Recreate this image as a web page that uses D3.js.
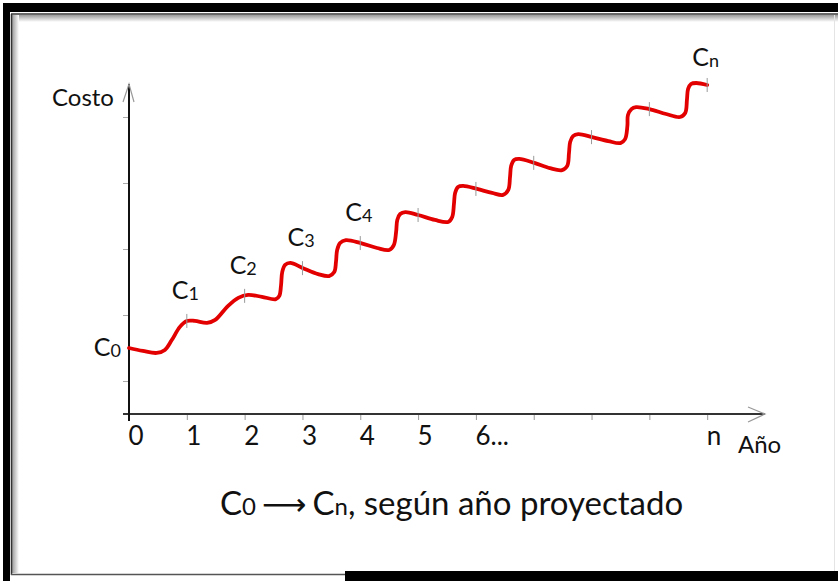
<!DOCTYPE html>
<html>
<head>
<meta charset="utf-8">
<script src="https://cdn.jsdelivr.net/npm/d3@7"></script>
<style>
html,body{margin:0;padding:0;background:#fff;}
svg{display:block;}
text{font-family:Lato,"Open Sans",sans-serif;fill:#111;}
</style>
</head>
<body>
<script>
// ---- data ----
const curveYears = [0,0.24,0.48,0.62,0.74,0.88,1.00,1.14,1.35,1.49,1.71,1.89,2.06,2.30,2.54,
  2.60,2.63,2.65,2.70,2.79,3.01,3.27,3.46,3.55,3.58,3.60,3.65,3.75,4.01,4.29,4.50,
  4.58,4.62,4.64,4.69,4.78,5.00,5.29,5.52,5.59,5.62,5.64,5.69,5.78,6.02,6.28,6.47,
  6.56,6.59,6.61,6.66,6.75,7.01,7.28,7.49,7.58,7.61,7.63,7.68,7.77,8.01,8.29,8.50,
  8.58,8.62,8.63,8.69,8.77,9.00,9.29,9.53,9.62,9.65,9.67,9.72,9.81,10.00];
const curveCosts = [2.00,1.91,1.85,1.94,2.24,2.64,2.82,2.82,2.76,2.85,3.27,3.52,3.61,3.55,3.48,
  3.58,3.91,4.30,4.52,4.58,4.42,4.24,4.18,4.30,4.61,4.97,5.18,5.27,5.18,5.03,4.97,
  5.12,5.52,5.88,6.06,6.12,6.03,5.88,5.82,5.97,6.36,6.70,6.88,6.91,6.82,6.70,6.64,
  6.79,7.18,7.52,7.70,7.73,7.61,7.45,7.39,7.52,7.91,8.24,8.42,8.48,8.39,8.27,8.21,
  8.33,8.73,9.06,9.24,9.30,9.24,9.09,9.00,9.12,9.52,9.85,10.00,10.03,9.97];
const markerYears = [1,2,3,4,5,6,7,8,9,10];
const markerCosts = [2.82,3.58,4.42,5.18,6.03,6.82,7.61,8.39,9.24,9.97];
const xTickValues = [0,1,2,3,4,5,6,7,8,9,10];
const xTickLabels = ["0","1","2","3","4","5","6...","","","","n"];
const yTickValues = [1,3,5,7,9];
const costLabelYears = [0,1,2,3,4,10];
const costLabelCosts = [2.00,2.82,3.58,4.42,5.18,9.97];
const costLabelSubs = ["0","1","2","3","4","n"];

const W = 838, H = 581;
const svg = d3.select("body").append("svg").attr("width", W).attr("height", H);

// ---- frame ----
const defs = svg.append("defs");
const gTop = defs.append("linearGradient").attr("id","shTop").attr("x1",0).attr("y1",0).attr("x2",0).attr("y2",1);
gTop.append("stop").attr("offset","0%").attr("stop-color","#9a9a9a");
gTop.append("stop").attr("offset","100%").attr("stop-color","#fff");
const gLeft = defs.append("linearGradient").attr("id","shLeft").attr("x1",0).attr("y1",0).attr("x2",1).attr("y2",0);
gLeft.append("stop").attr("offset","0%").attr("stop-color","#9a9a9a");
gLeft.append("stop").attr("offset","100%").attr("stop-color","#fff");
svg.append("rect").attr("x",12).attr("y",15).attr("width",W-12).attr("height",7).attr("fill","url(#shTop)");
svg.append("rect").attr("x",12).attr("y",15).attr("width",7).attr("height",558).attr("fill","url(#shLeft)");
svg.append("rect").attr("x",3).attr("y",3).attr("width",W-3).attr("height",9).attr("fill","#000");
svg.append("rect").attr("x",3).attr("y",3).attr("width",7).attr("height",H-3).attr("fill","#000");
svg.append("line").attr("x1",11).attr("x2",W).attr("y1",14).attr("y2",14).attr("stroke","#333").attr("stroke-width",1.5);
svg.append("line").attr("x1",11.5).attr("x2",11.5).attr("y1",14).attr("y2",575).attr("stroke","#333").attr("stroke-width",1.5);
svg.append("line").attr("x1",11).attr("x2",346).attr("y1",574.5).attr("y2",574.5).attr("stroke","#555").attr("stroke-width",1.5);
svg.append("rect").attr("x",345).attr("y",571).attr("width",W-345).attr("height",10).attr("fill","#000");
svg.append("line").attr("x1",834.5).attr("x2",834.5).attr("y1",15).attr("y2",571).attr("stroke","#e4e4e4").attr("stroke-width",1);

// ---- scales ----
const x = d3.scaleLinear().domain([0, 11]).range([129, 765]);
const y = d3.scaleLinear().domain([0, 10]).range([414, 84]);

// y axis ticks
const yAxis = d3.axisLeft(y).tickValues(yTickValues).tickSize(6).tickFormat("");
const gy = svg.append("g").attr("transform", `translate(${x(0)},0)`).call(yAxis);
gy.select(".domain").remove();
gy.selectAll(".tick line").attr("stroke","#aaa").attr("stroke-width",1);

// x axis
const xAxis = d3.axisBottom(x).tickValues(xTickValues).tickSize(6).tickFormat((d,i)=>xTickLabels[i]);
const gx = svg.append("g").attr("transform", `translate(0,${y(0)})`).call(xAxis);
gx.select(".domain").remove();
gx.selectAll(".tick line").attr("stroke","#999").attr("stroke-width",1);
gx.selectAll(".tick text").attr("text-anchor","start").attr("x",-1).attr("y",13).attr("dy","0.71em")
  .style("font-size","26px").style("font-family","Lato,'Open Sans',sans-serif").attr("fill","#111");

// axis lines
svg.append("line").attr("x1",x(0)-6).attr("x2",x(11)).attr("y1",y(0)).attr("y2",y(0)).attr("stroke","#333").attr("stroke-width",2);
svg.append("line").attr("x1",x(0)).attr("x2",x(0)).attr("y1",y(0)+7).attr("y2",y(10)).attr("stroke","#111").attr("stroke-width",2);
// arrowheads
svg.append("path").attr("d",`M${x(11)-17},${y(0)-7}L${x(11)},${y(0)}L${x(11)-17},${y(0)+8}`).attr("fill","none").attr("stroke","#999").attr("stroke-width",1.2);
svg.append("path").attr("d",`M${x(0)-6},${y(10)+18}L${x(0)},${y(10)}L${x(0)+5},${y(10)+18}`).attr("fill","none").attr("stroke","#999").attr("stroke-width",1.2);

// curve
const pts = curveYears.map((d,i)=>[d, curveCosts[i]]);
const line = d3.line().x(d=>x(d[0])).y(d=>y(d[1])).curve(d3.curveCatmullRom.alpha(0.5));
svg.append("path").attr("d", line(pts)).attr("fill","none").attr("stroke","#e30000").attr("stroke-width",3.8).attr("stroke-linecap","round").attr("stroke-linejoin","round");

// markers on curve
svg.selectAll(".mk").data(markerYears).enter().append("line")
  .attr("x1",d=>x(d)).attr("x2",d=>x(d))
  .attr("y1",(d,i)=>y(markerCosts[i])-7).attr("y2",(d,i)=>y(markerCosts[i])+7)
  .attr("stroke","#999").attr("stroke-width",1);

// cost labels
costLabelYears.forEach((yr,i)=>{
  const px = x(yr), py = y(costLabelCosts[i]);
  let t;
  if (yr === 0) {
    t = svg.append("text").attr("x", px-8).attr("y", py+8).attr("text-anchor","end");
  } else {
    t = svg.append("text").attr("x", px-15).attr("y", py - (yr===10?19:22));
  }
  t.style("font-size","25px");
  t.append("tspan").text("C");
  t.append("tspan").attr("dy", 1).style("font-size","18px").text(costLabelSubs[i]);
});

// axis titles
svg.append("text").attr("x",52).attr("y",106).style("font-size","24px").text("Costo");
svg.append("text").attr("x",738).attr("y",453).style("font-size","24px").text("Año");

// subtitle
const st = svg.append("text").attr("x",220).attr("y",515).style("font-size","33px");
st.append("tspan").text("C");
st.append("tspan").style("font-size","24px").text("0");
st.append("tspan").attr("dx",6).style("font-family","'DejaVu Sans',sans-serif").style("font-size","31px").text("\u27F6");
st.append("tspan").attr("dx",6).text("C");
st.append("tspan").style("font-size","24px").text("n");
st.append("tspan").text(", según año proyectado");
</script>
</body>
</html>
